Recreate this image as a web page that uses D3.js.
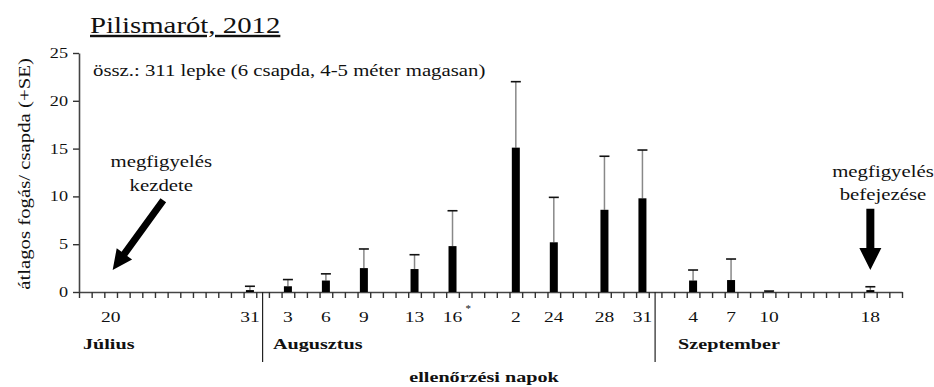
<!DOCTYPE html>
<html>
<head>
<meta charset="utf-8">
<script src="https://cdn.jsdelivr.net/npm/d3@7"></script>
<style>
  body { margin: 0; background: #fff; }
</style>
</head>
<body>
<svg id="chart" width="934" height="387"></svg>
<script>
// daily catch data, Pilismarót 2012
const catchDates = ["07-31", "08-03", "08-06", "08-09", "08-13", "08-16", "08-21",
  "08-24", "08-28", "08-31", "09-04", "09-07", "09-10", "09-18"];
const meanCatch = [0.2, 0.6, 1.2, 2.5, 2.4, 4.8, 15.1, 5.2, 8.6, 9.8, 1.2, 1.25, 0.05, 0.2];
const upperSE = [0.6, 1.3, 1.9, 4.5, 3.9, 8.5, 22.0, 9.9, 14.2, 14.85, 2.3, 3.45, 0.1, 0.55];

const tickDates = ["07-20", "07-31", "08-03", "08-06", "08-09", "08-13", "08-16", "08-21",
  "08-24", "08-28", "08-31", "09-04", "09-07", "09-10", "09-18"];
const tickLabels = ["20", "31", "3", "6", "9", "13", "16", "2", "24", "28", "31", "4", "7", "10", "18"];
const starredDate = "08-16";

const months = ["Július", "Augusztus", "Szeptember"];
const monthLabelDates = ["07-18", "08-02", "09-03"];
const monthStarts = ["08-01", "09-01"];

const yTicks = [0, 5, 10, 15, 20, 25];

const sx = 1.3; // the source font is set wide
const serif = '"Liberation Serif", "DejaVu Serif", serif';

const svg = d3.select('#chart');
const fmt = d3.timeFormat('%m-%d');
const days = d3.timeDay.range(new Date(2012, 6, 18), new Date(2012, 8, 21)).map(fmt);

const plotLeft = 79, plotRight = 902, plotTop = 53, plotBottom = 292;

const x = d3.scaleBand().domain(days).range([plotLeft, plotRight]).padding(0);
const xEdge = d3.scaleLinear().domain([0, days.length]).range([plotLeft, plotRight]);
const y = d3.scaleLinear().domain([0, 25]).range([plotBottom, plotTop]);
const cx = d => x(d) + x.bandwidth() / 2;

function label(g, px, py, str, size, opts = {}) {
  return g.append('text')
    .attr('transform', `translate(${px},${py})${opts.rotate ? ' rotate(-90)' : ''} scale(${opts.sx || sx},1)`)
    .attr('text-anchor', opts.anchor || 'start')
    .attr('font-family', serif)
    .attr('font-size', size + 'px')
    .attr('font-weight', opts.bold ? 'bold' : 'normal')
    .attr('fill', '#111')
    .text(str);
}

// y axis
const yAxis = svg.append('g')
  .attr('transform', `translate(${plotLeft},0)`)
  .call(d3.axisLeft(y).tickValues(yTicks).tickSize(6).tickSizeOuter(0).tickFormat(''));
yAxis.select('.domain').attr('stroke', '#444').attr('stroke-width', 1.6);
yAxis.selectAll('.tick line').attr('stroke', '#333').attr('stroke-width', 1.4);
yTicks.forEach(v => label(svg, plotLeft - 11, y(v) + 5, v, 14, { anchor: 'end' }));

// x axis: ticks at the day boundaries
const xAxis = svg.append('g')
  .attr('transform', `translate(0,${plotBottom})`)
  .call(d3.axisBottom(xEdge).tickValues(d3.range(days.length + 1)).tickSize(6).tickSizeOuter(0).tickFormat(''));
xAxis.select('.domain').attr('stroke', '#444').attr('stroke-width', 1.6);
xAxis.selectAll('.tick line').attr('stroke', '#333').attr('stroke-width', 1.4);

tickDates.forEach((d, i) => {
  label(svg, cx(d), 322, tickLabels[i], 15, { anchor: 'middle' });
  if (d === starredDate) {
    label(svg, cx(d) + 13, 312, '*', 11, { sx: 1 });
  }
});

// month separators and names
monthStarts.forEach(d => {
  svg.append('line')
    .attr('x1', cx(d)).attr('x2', cx(d))
    .attr('y1', plotBottom).attr('y2', 362)
    .attr('stroke', '#222').attr('stroke-width', 1.2);
});
months.forEach((m, i) => label(svg, x(monthLabelDates[i]) + 4, 349, m, 15.5, { bold: true }));

// error bars then bars
const bars = svg.append('g');
catchDates.forEach((d, i) => {
  bars.append('line')
    .attr('x1', cx(d)).attr('x2', cx(d))
    .attr('y1', y(meanCatch[i])).attr('y2', y(upperSE[i]))
    .attr('stroke', '#888').attr('stroke-width', 1.5);
  bars.append('line')
    .attr('x1', cx(d) - 5).attr('x2', cx(d) + 5)
    .attr('y1', y(upperSE[i])).attr('y2', y(upperSE[i]))
    .attr('stroke', '#111').attr('stroke-width', 1.6);
  bars.append('rect')
    .attr('x', cx(d) - 4)
    .attr('y', y(meanCatch[i]))
    .attr('width', 8)
    .attr('height', plotBottom - y(meanCatch[i]))
    .attr('fill', '#000');
});

// arrows
function arrow(x1, y1, x2, y2, shaft, head, headLen) {
  const a = Math.atan2(y2 - y1, x2 - x1);
  const len = Math.hypot(x2 - x1, y2 - y1);
  const pts = [[0, -shaft / 2], [len - headLen, -shaft / 2], [len - headLen, -head / 2], [len, 0],
    [len - headLen, head / 2], [len - headLen, shaft / 2], [0, shaft / 2]];
  svg.append('path')
    .attr('transform', `translate(${x1},${y1}) rotate(${a * 180 / Math.PI})`)
    .attr('d', d3.line()(pts) + 'Z')
    .attr('fill', '#000');
}
arrow(cx('07-24') + 2, y(9.6), cx('07-20') + 2, y(2.3), 7, 19, 20);
arrow(cx('09-18'), y(8.7), cx('09-18'), y(2.3), 8, 22, 22);

label(svg, cx('07-24'), 167, 'megfigyelés', 16, { anchor: 'middle' });
label(svg, cx('07-24'), 191, 'kezdete', 16, { anchor: 'middle' });
label(svg, cx('09-19'), 177, 'megfigyelés', 16, { anchor: 'middle' });
label(svg, cx('09-19'), 200, 'befejezése', 16, { anchor: 'middle' });

// titles
label(svg, 90, 33, 'Pilismarót, 2012', 24, { sx: 1.2 })
  .style('text-decoration', 'underline');
label(svg, 93, 76, 'össz.: 311 lepke (6 csapda, 4-5 méter magasan)', 16);
label(svg, 30, 174, 'átlagos fogás/ csapda (+SE)', 16, { anchor: 'middle', rotate: true });
label(svg, 484, 382, 'ellenőrzési napok', 15.5, { anchor: 'middle', bold: true });
</script>
</body>
</html>
